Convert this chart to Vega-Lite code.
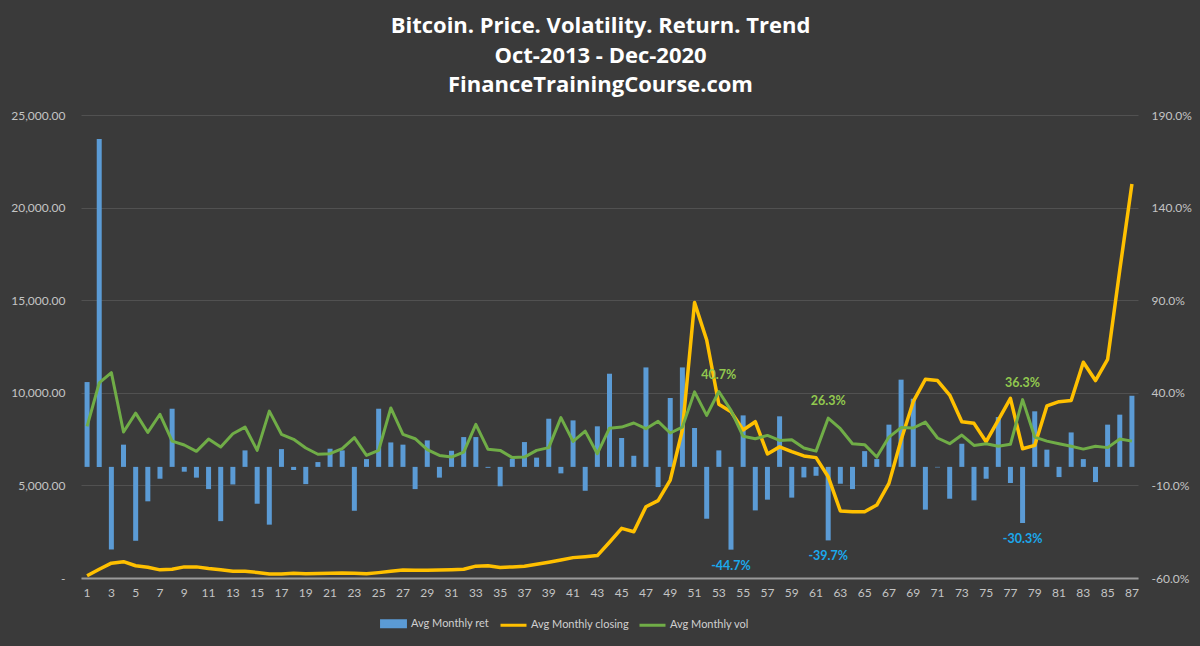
{
  "$schema": "https://vega.github.io/schema/vega-lite/v6.json",
  "autosize": {"type": "none"},
  "width": 1057,
  "height": 463,
  "padding": {"left": 81, "top": 115, "right": 62, "bottom": 68},
  "background": "#3a3a3a",
  "title": {
    "text": ["Bitcoin. Price. Volatility. Return. Trend", "Oct-2013 - Dec-2020", "FinanceTrainingCourse.com"],
    "anchor": "middle",
    "dx": -9,
    "offset": 12,
    "font": "Open Sans",
    "fontSize": 22,
    "fontWeight": "bold",
    "color": "#ffffff",
    "lineHeight": 29.5
  },
  "config": {
    "font": "Lato",
    "view": {"stroke": null},
    "axis": {"labelFont": "Lato", "labelFontSize": 12, "labelColor": "#c4c4c4", "title": null}
  },
  "data": {"values": [
    {"n":1,"ret":0.458,"price":120,"vol":0.219},
    {"n":2,"ret":1.77,"price":470,"vol":0.453},
    {"n":3,"ret":-0.446,"price":800,"vol":0.509},
    {"n":4,"ret":0.12,"price":880,"vol":0.188},
    {"n":5,"ret":-0.399,"price":660,"vol":0.29},
    {"n":6,"ret":-0.186,"price":580,"vol":0.186},
    {"n":7,"ret":-0.064,"price":440,"vol":0.284},
    {"n":8,"ret":0.314,"price":470,"vol":0.139},
    {"n":9,"ret":-0.026,"price":600,"vol":0.118},
    {"n":10,"ret":-0.058,"price":600,"vol":0.084},
    {"n":11,"ret":-0.12,"price":510,"vol":0.15},
    {"n":12,"ret":-0.293,"price":440,"vol":0.107},
    {"n":13,"ret":-0.095,"price":360,"vol":0.179},
    {"n":14,"ret":0.089,"price":360,"vol":0.215},
    {"n":15,"ret":-0.199,"price":300,"vol":0.089},
    {"n":16,"ret":-0.312,"price":220,"vol":0.301},
    {"n":17,"ret":0.096,"price":210,"vol":0.176},
    {"n":18,"ret":-0.017,"price":250,"vol":0.149},
    {"n":19,"ret":-0.093,"price":230,"vol":0.102},
    {"n":20,"ret":0.026,"price":240,"vol":0.068},
    {"n":21,"ret":0.098,"price":250,"vol":0.071},
    {"n":22,"ret":0.089,"price":270,"vol":0.098},
    {"n":23,"ret":-0.237,"price":250,"vol":0.158},
    {"n":24,"ret":0.042,"price":230,"vol":0.062},
    {"n":25,"ret":0.314,"price":290,"vol":0.089},
    {"n":26,"ret":0.132,"price":360,"vol":0.318},
    {"n":27,"ret":0.12,"price":430,"vol":0.176},
    {"n":28,"ret":-0.12,"price":420,"vol":0.152},
    {"n":29,"ret":0.143,"price":420,"vol":0.093},
    {"n":30,"ret":-0.058,"price":430,"vol":0.062},
    {"n":31,"ret":0.087,"price":450,"vol":0.053},
    {"n":32,"ret":0.161,"price":470,"vol":0.08},
    {"n":33,"ret":0.161,"price":640,"vol":0.23},
    {"n":34,"ret":-0.005,"price":660,"vol":0.095},
    {"n":35,"ret":-0.105,"price":570,"vol":0.089},
    {"n":36,"ret":0.044,"price":600,"vol":0.05},
    {"n":37,"ret":0.134,"price":630,"vol":0.053},
    {"n":38,"ret":0.05,"price":740,"vol":0.089},
    {"n":39,"ret":0.26,"price":850,"vol":0.104},
    {"n":40,"ret":-0.035,"price":970,"vol":0.266},
    {"n":41,"ret":0.251,"price":1100,"vol":0.138},
    {"n":42,"ret":-0.129,"price":1150,"vol":0.193},
    {"n":43,"ret":0.219,"price":1210,"vol":0.071},
    {"n":44,"ret":0.503,"price":1930,"vol":0.209},
    {"n":45,"ret":0.156,"price":2680,"vol":0.215},
    {"n":46,"ret":0.06,"price":2500,"vol":0.237},
    {"n":47,"ret":0.537,"price":3850,"vol":0.206},
    {"n":48,"ret":-0.109,"price":4180,"vol":0.246},
    {"n":49,"ret":0.372,"price":5290,"vol":0.183},
    {"n":50,"ret":0.537,"price":7990,"vol":0.215},
    {"n":51,"ret":0.21,"price":14870,"vol":0.405},
    {"n":52,"ret":-0.28,"price":12850,"vol":0.278},
    {"n":53,"ret":0.089,"price":9380,"vol":0.407},
    {"n":54,"ret":-0.447,"price":8980,"vol":0.305},
    {"n":55,"ret":0.278,"price":7990,"vol":0.165},
    {"n":56,"ret":-0.235,"price":8440,"vol":0.152},
    {"n":57,"ret":-0.177,"price":6700,"vol":0.17},
    {"n":58,"ret":0.273,"price":7080,"vol":0.143},
    {"n":59,"ret":-0.166,"price":6820,"vol":0.147},
    {"n":60,"ret":-0.057,"price":6590,"vol":0.102},
    {"n":61,"ret":-0.048,"price":6500,"vol":0.085},
    {"n":62,"ret":-0.397,"price":5470,"vol":0.263},
    {"n":63,"ret":-0.091,"price":3620,"vol":0.206},
    {"n":64,"ret":-0.12,"price":3580,"vol":0.125},
    {"n":65,"ret":0.085,"price":3580,"vol":0.12},
    {"n":66,"ret":0.042,"price":3940,"vol":0.053},
    {"n":67,"ret":0.228,"price":5110,"vol":0.161},
    {"n":68,"ret":0.471,"price":7450,"vol":0.212},
    {"n":69,"ret":0.368,"price":9520,"vol":0.21},
    {"n":70,"ret":-0.231,"price":10730,"vol":0.242},
    {"n":71,"ret":-0.003,"price":10660,"vol":0.156},
    {"n":72,"ret":-0.172,"price":9880,"vol":0.125},
    {"n":73,"ret":0.125,"price":8440,"vol":0.172},
    {"n":74,"ret":-0.181,"price":8350,"vol":0.116},
    {"n":75,"ret":-0.064,"price":7360,"vol":0.125},
    {"n":76,"ret":0.269,"price":8530,"vol":0.111},
    {"n":77,"ret":-0.087,"price":9700,"vol":0.122},
    {"n":78,"ret":-0.303,"price":6980,"vol":0.363},
    {"n":79,"ret":0.30,"price":7160,"vol":0.161},
    {"n":80,"ret":0.093,"price":9290,"vol":0.139},
    {"n":81,"ret":-0.055,"price":9520,"vol":0.125},
    {"n":82,"ret":0.186,"price":9580,"vol":0.111},
    {"n":83,"ret":0.042,"price":11650,"vol":0.096},
    {"n":84,"ret":-0.082,"price":10660,"vol":0.111},
    {"n":85,"ret":0.228,"price":11810,"vol":0.104},
    {"n":86,"ret":0.282,"price":16630,"vol":0.15},
    {"n":87,"ret":0.384,"price":21280,"vol":0.139}
  ]},
  "layer": [
    {
      "mark": {"type": "bar", "size": 5},
      "encoding": {
        "x": {
          "field": "n", "type": "ordinal",
          "scale": {"paddingInner": 0, "paddingOuter": 0},
          "axis": {
            "values": [1,3,5,7,9,11,13,15,17,19,21,23,25,27,29,31,33,35,37,39,41,43,45,47,49,51,53,55,57,59,61,63,65,67,69,71,73,75,77,79,81,83,85,87],
            "labelAngle": 0, "ticks": false, "labelPadding": 9,
            "domainColor": "#9a9a9a", "domainWidth": 2, "grid": false
          }
        },
        "y": {
          "field": "ret", "type": "quantitative",
          "scale": {"domain": [-0.6, 1.9], "nice": false, "zero": false},
          "axis": {
            "orient": "right", "values": [-0.6, -0.1, 0.4, 0.9, 1.4, 1.9],
            "labelExpr": "replace(format(datum.value, '.1%'), '\u2212', '-')",
            "domain": false, "ticks": false, "grid": false, "labelPadding": 13
          }
        },
        "color": {
          "datum": "Avg Monthly ret",
          "scale": {"domain": ["Avg Monthly ret", "Avg Monthly closing", "Avg Monthly vol"], "range": ["#5B9BD5", "#FFC000", "#70AD47"]},
          "legend": {
            "title": null, "orient": "none", "direction": "horizontal",
            "legendX": 298, "legendY": 494,
            "labelFont": "Lato", "labelFontSize": 11, "labelColor": "#d0d0d0",
            "symbolSize": 676, "labelOffset": 3, "columnPadding": 4,
            "encode": {
              "symbols": {"update": {
                "shape": {"signal": "datum.value === 'Avg Monthly ret' ? 'M-0.92,-0.23H0.92V0.23H-0.92Z' : 'M-1,0H1'"},
                "fill": {"signal": "datum.value === 'Avg Monthly ret' ? '#5B9BD5' : 'transparent'"},
                "stroke": {"signal": "datum.value === 'Avg Monthly ret' ? 'transparent' : (datum.value === 'Avg Monthly closing' ? '#FFC000' : '#70AD47')"},
                "strokeWidth": {"value": 3},
                "opacity": {"value": 1}
              }}
            }
          }
        }
      }
    },
    {
      "mark": {"type": "line", "strokeWidth": 3.5, "strokeJoin": "round"},
      "encoding": {
        "x": {"field": "n", "type": "ordinal"},
        "y": {
          "field": "price", "type": "quantitative",
          "scale": {"domain": [0, 25000], "nice": false},
          "axis": {
            "orient": "left", "values": [0, 5000, 10000, 15000, 20000, 25000],
            "labelExpr": "datum.value == 0 ? '-' : format(datum.value, ',.2f')",
            "domain": false, "ticks": false, "labelPadding": 16,
            "grid": true, "gridColor": "#ffffff", "gridOpacity": 0.12, "gridWidth": 1
          }
        },
        "color": {"datum": "Avg Monthly closing"}
      }
    },
    {
      "mark": {"type": "line", "strokeWidth": 3, "strokeJoin": "round"},
      "encoding": {
        "x": {"field": "n", "type": "ordinal"},
        "y": {
          "field": "vol", "type": "quantitative",
          "scale": {"domain": [-0.6, 1.9], "nice": false, "zero": false},
          "axis": null
        },
        "color": {"datum": "Avg Monthly vol"}
      }
    },
    {
      "transform": [
        {"filter": {"field": "n", "oneOf": [53, 62, 78]}},
        {"calculate": "replace(format(datum.vol, '.1%'), '\u2212', '-')", "as": "volLabel"}
      ],
      "mark": {"type": "text", "dy": -17, "font": "Lato", "fontSize": 12.5, "fontWeight": "bold", "color": "#92C94F"},
      "encoding": {
        "x": {"field": "n", "type": "ordinal"},
        "y": {
          "field": "vol", "type": "quantitative",
          "scale": {"domain": [-0.6, 1.9], "nice": false, "zero": false},
          "axis": null
        },
        "text": {"field": "volLabel"}
      }
    },
    {
      "transform": [
        {"filter": {"field": "n", "oneOf": [54, 62, 78]}},
        {"calculate": "replace(format(datum.ret, '.1%'), '\u2212', '-')", "as": "retLabel"}
      ],
      "mark": {"type": "text", "dy": 16, "font": "Lato", "fontSize": 12.5, "fontWeight": "bold", "color": "#1AA8EC"},
      "encoding": {
        "x": {"field": "n", "type": "ordinal"},
        "y": {
          "field": "ret", "type": "quantitative",
          "scale": {"domain": [-0.6, 1.9], "nice": false, "zero": false},
          "axis": null
        },
        "text": {"field": "retLabel"}
      }
    }
  ],
  "resolve": {"scale": {"y": "independent"}, "axis": {"y": "independent"}}
}
